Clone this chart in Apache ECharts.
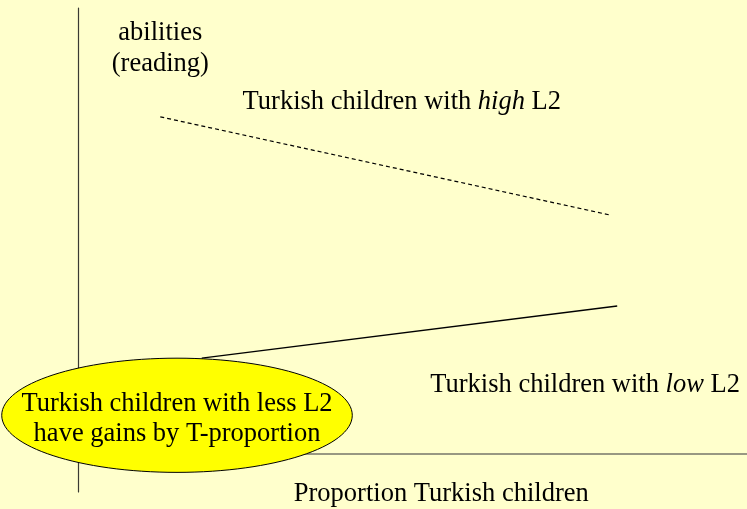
<!DOCTYPE html>
<html>
<head>
<meta charset="utf-8">
<script src="https://cdn.jsdelivr.net/npm/echarts@6/dist/echarts.min.js"></script>
<style>
  html, body { margin: 0; padding: 0; background: #FFFFCC; }
  #chart { width: 747px; height: 509px; }
</style>
</head>
<body>
<div id="chart"></div>
<script>
// Schematic axes: proportion of Turkish children (x) vs. reading abilities (y)
const xRange = [0, 10];
const yRange = [-0.85, 10];

// Trend lines for the two groups
const highL2Line = [[1.23, 7.56], [7.95, 5.36]];
const lowL2Line = [[1.85, 2.15], [8.06, 3.32]];

// Highlight bubble: centre x, centre y, radius x, radius y
const bubble = [[1.48, 0.87, 2.62, 1.28]];
const bubbleText = ['Turkish children with less L2', 'have gains by T-proportion'];

// Annotation texts and their anchor points
const annotations = [
  { name: 'abilities\n(reading)', value: [1.23, 9.13] },
  { name: 'Turkish children with {i|high} L2', value: [4.84, 7.94] },
  { name: 'Turkish children with {i|low} L2', value: [7.58, 1.59] },
  { name: 'Proportion Turkish children', value: [5.43, -0.85] }
];

const FONT = '"Liberation Serif", "Times New Roman", serif';
const FS = 26.5;

const chart = echarts.init(document.getElementById('chart'), null, { renderer: 'canvas' });
chart.setOption({
  backgroundColor: '#FFFFCC',
  animation: false,
  grid: { left: 78, right: 0, top: 8, bottom: 17, outerBoundsMode: 'none' },
  xAxis: {
    type: 'value', min: xRange[0], max: xRange[1],
    axisLine: { show: true, onZero: true, lineStyle: { color: '#77776a', width: 1.5 } },
    axisTick: { show: false }, axisLabel: { show: false }, splitLine: { show: false }
  },
  yAxis: {
    type: 'value', min: yRange[0], max: yRange[1],
    axisLine: { show: true, onZero: false, lineStyle: { color: '#3a3a33', width: 1.2 } },
    axisTick: { show: false }, axisLabel: { show: false }, splitLine: { show: false }
  },
  series: [
    {
      type: 'line', data: highL2Line, symbol: 'none', silent: true,
      lineStyle: { color: '#000', width: 1.2, type: [4, 3] }, z: 3
    },
    {
      type: 'line', data: lowL2Line, symbol: 'none', silent: true,
      lineStyle: { color: '#000', width: 1.3 }, z: 3
    },
    {
      type: 'custom', data: bubble, clip: false, z: 5,
      renderItem: function (params, api) {
        const c = api.coord([api.value(0), api.value(1)]);
        const o = api.coord([0, 0]);
        const e = api.coord([api.value(2), api.value(3)]);
        return {
          type: 'ellipse',
          shape: { cx: c[0], cy: c[1], rx: e[0] - o[0], ry: o[1] - e[1] },
          style: { fill: '#FFFF00', stroke: '#000', lineWidth: 1 },
          textContent: {
            style: {
              text: bubbleText.join('\n'),
              font: FS + 'px ' + FONT,
              fill: '#000',
              align: 'center',
              verticalAlign: 'middle',
              lineHeight: 30
            }
          },
          textConfig: { position: 'inside', offset: [0, 4] }
        };
      }
    },
    {
      type: 'scatter', data: annotations, symbolSize: 0, silent: true, z: 6,
      itemStyle: { opacity: 1 },
      label: {
        show: true, position: 'inside', offset: [0, 2],
        formatter: function (p) { return p.name; },
        fontFamily: FONT, fontSize: FS, color: '#000', opacity: 1, lineHeight: 31,
        align: 'center', verticalAlign: 'middle',
        rich: { i: { fontFamily: FONT, fontSize: FS, fontStyle: 'italic', color: '#000' } }
      }
    }
  ]
});
</script>
</body>
</html>
